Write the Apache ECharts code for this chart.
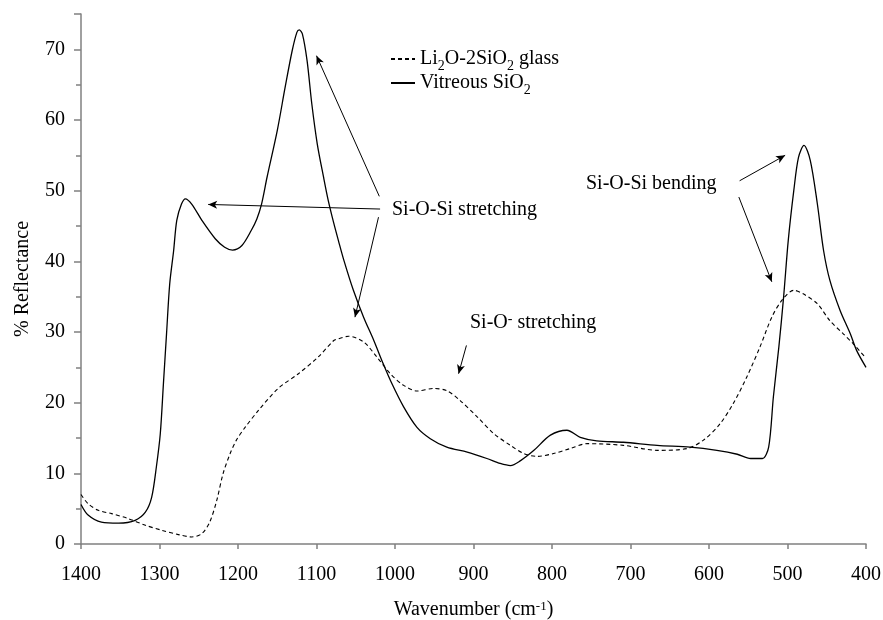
<!DOCTYPE html>
<html>
<head>
<meta charset="utf-8">
<script src="https://cdn.jsdelivr.net/npm/echarts@6/dist/echarts.min.js"></script>
<style>
html,body{margin:0;padding:0;background:#fff;}
#chart{width:883px;height:620px;}
</style>
</head>
<body>
<div id="chart"></div>
<script>
// Vitreous SiO2 (solid line)
const siWave = [1400,1391,1374,1352,1331,1318,1310,1304,1299,1295,1291,1287,1282,1278,1272,1267,1259,1246,1229,1217,1207,1195,1183,1176,1170,1163,1150,1140,1131,1125,1122,1118,1112,1106,1099,1091,1085,1078,1072,1065,1053,1040,1027,1015,1004,989,972,955,934,908,883,866,853,840,823,802,781,764,743,709,666,624,590,564,547,532,524,518,511,505,499,492,486,479,471,462,454,446,433,420,412,400];
const siRefl = [5.6,4.1,3.1,2.95,3.35,4.5,6.6,10.9,15.6,22.7,29.8,36.8,41.5,45.8,48.1,48.85,48.1,45.8,43.2,42.0,41.6,42.25,44.4,46.0,48.1,51.9,58.5,64.6,69.8,72.4,72.75,72.2,68.4,62.3,56.6,51.9,48.6,45.4,42.9,40.1,35.9,32.1,28.8,25.5,22.7,19.4,16.5,14.9,13.7,13.0,12.1,11.4,11.1,11.8,13.25,15.4,16.1,15.1,14.6,14.4,13.96,13.7,13.25,12.7,12.1,12.1,13.7,20.8,27.9,34.9,43.0,50.0,54.7,56.4,54.3,48.15,41.5,37.3,33.05,29.75,27.4,25.0];
// Li2O-2SiO2 glass (dashed line)
const liWave = [1400,1391,1378,1361,1340,1318,1297,1276,1259,1246,1236,1227,1219,1210,1202,1191,1174,1149,1123,1098,1078,1072,1059,1040,1023,1006,989,972,951,934,917,895,874,853,836,819,798,777,755,709,666,628,607,586,569,552,535,520,507,492,480,462,446,429,416,400];
const liRefl = [7.0,5.7,4.77,4.3,3.6,2.65,1.94,1.33,1.0,1.47,3.1,6.2,9.96,12.8,14.7,16.5,18.9,22.0,24.1,26.45,28.8,29.05,29.4,28.6,26.45,24.1,22.45,21.65,22.0,21.7,20.3,17.96,15.6,13.96,12.8,12.4,12.8,13.5,14.2,13.96,13.25,13.5,14.7,17.0,19.9,23.6,27.9,32.1,34.5,35.9,35.4,34.0,31.6,29.75,28.3,26.3];

const seriesNames = ['Li2O-2SiO2 glass', 'Vitreous SiO2'];
const xTicks = {min: 400, max: 1400, interval: 100};
const yTicks = {min: 0, max: 75, interval: 10};

// annotation arrows: [fromWave, fromRefl, toWave, toRefl]
const arrows = [
  [1019, 47.4, 1238, 48.05],
  [1020, 49.2, 1100, 69.1],
  [1021, 46.25, 1051, 32.1],
  [909, 28.1, 919, 24.1],
  [561, 51.4, 503, 55.0],
  [562, 49.1, 520, 37.1]
];

const FONT = '"Liberation Serif", "Times New Roman", serif';

const chart = echarts.init(document.getElementById('chart'));

const legendRich = {
  n: {fontFamily: FONT, fontSize: 20, color: '#000', lineHeight: 20},
  s: {fontFamily: FONT, fontSize: 14, color: '#000', verticalAlign: 'bottom', lineHeight: 20, padding: [0, 0, -4, 0]}
};
const legendText = {
  'Li2O-2SiO2 glass': '{n|Li}{s|2}{n|O-2SiO}{s|2}{n| glass}',
  'Vitreous SiO2': '{n|Vitreous SiO}{s|2}'
};

const option = {
  animation: false,
  backgroundColor: '#fff',
  grid: {left: 81, right: 17, top: 14, bottom: 76, containLabel: false, outerBoundsMode: 'none'},
  legend: {
    orient: 'vertical',
    left: 385,
    top: 44,
    itemWidth: 24,
    itemHeight: 10,
    itemGap: 0,
    selectedMode: false,
    data: seriesNames,
    itemStyle: {opacity: 0},
    formatter: n => legendText[n],
    textStyle: {rich: legendRich, fontFamily: FONT, fontSize: 20, color: '#000'}
  },
  xAxis: {
    type: 'value',
    inverse: true,
    min: xTicks.min, max: xTicks.max, interval: xTicks.interval,
    splitLine: {show: false},
    axisLine: {lineStyle: {color: '#808080', width: 1.5}},
    axisTick: {lineStyle: {color: '#808080', width: 1.5}, length: 5},
    axisLabel: {fontFamily: FONT, fontSize: 20, color: '#000', margin: 21, formatter: v => String(v)},
    name: 'Wavenumber (cm{sup|-1})',
    nameLocation: 'middle',
    nameGap: 56,
    nameTextStyle: {
      fontFamily: FONT, fontSize: 20, color: '#000',
      rich: {sup: {fontFamily: FONT, fontSize: 13, color: '#000', verticalAlign: 'top', padding: [0, 0, 6, 0]}}
    }
  },
  yAxis: {
    type: 'value',
    min: yTicks.min, max: yTicks.max, interval: yTicks.interval,
    splitLine: {show: false},
    axisLine: {show: true, lineStyle: {color: '#808080', width: 1.5}},
    axisTick: {show: true, lineStyle: {color: '#808080', width: 1.5}, length: 7},
    minorTick: {show: true, splitNumber: 2, length: 5, lineStyle: {color: '#808080', width: 1.5}},
    axisLabel: {fontFamily: FONT, fontSize: 20, color: '#000', margin: 16,
      formatter: v => (v % 10 === 0 ? String(v) : '')},
    name: '% Reflectance',
    nameLocation: 'middle',
    nameGap: 48,
    nameTextStyle: {fontFamily: FONT, fontSize: 20, color: '#000'}
  },
  series: [
    {
      name: seriesNames[0],
      type: 'line',
      data: liWave.map((w, i) => [w, liRefl[i]]),
      showSymbol: false,
      symbol: 'none',
      smooth: 0.3,
      lineStyle: {color: '#000', width: 1.1, type: [4, 3]},
      itemStyle: {color: '#000'},
      silent: true
    },
    {
      name: seriesNames[1],
      type: 'line',
      data: siWave.map((w, i) => [w, siRefl[i]]),
      showSymbol: false,
      symbol: 'none',
      smooth: 0.3,
      lineStyle: {color: '#000', width: 1.3},
      itemStyle: {color: '#000'},
      silent: true,
      markLine: {
        silent: true,
        symbol: ['none', 'arrow'],
        symbolSize: [6, 9],
        label: {show: false},
        lineStyle: {color: '#000', width: 1, type: 'solid'},
        emphasis: {disabled: true},
        data: arrows.map(a => [{coord: [a[0], a[1]]}, {coord: [a[2], a[3]]}])
      }
    }
  ],
  graphic: [
    {type: 'text', left: 392, top: 200, style: {text: 'Si-O-Si stretching', font: '20px ' + FONT, fill: '#000'}},
    {type: 'text', left: 586, top: 174, style: {text: 'Si-O-Si bending', font: '20px ' + FONT, fill: '#000'}},
    {type: 'text', left: 470, top: 312, style: {
      text: '{n|Si-O}{sup|-}{n| stretching}',
      rich: {
        n: {fontFamily: FONT, fontSize: 20, fill: '#000'},
        sup: {fontFamily: FONT, fontSize: 14, fill: '#000', verticalAlign: 'top', padding: [0, 0, 8, 0]}
      }
    }}
  ]
};

chart.setOption(option);
</script>
</body>
</html>
